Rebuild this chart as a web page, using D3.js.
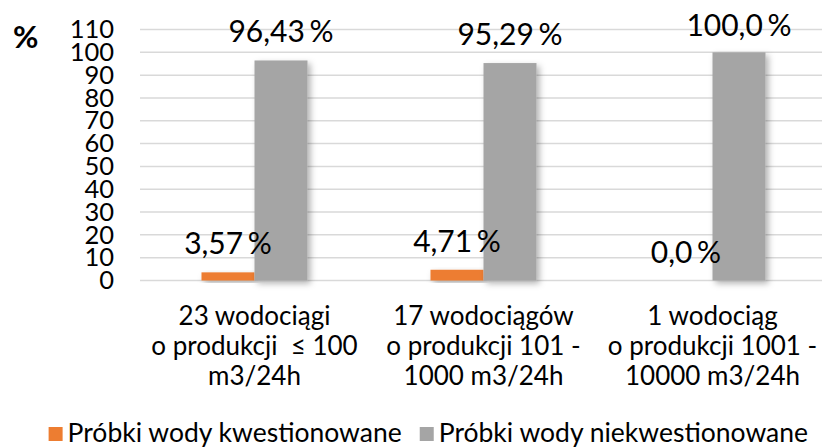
<!doctype html>
<html>
<head>
<meta charset="utf-8">
<script src="https://cdnjs.cloudflare.com/ajax/libs/d3/7.8.5/d3.min.js"></script>
<style>
  body { margin: 0; background: #fff; }
  svg { font-family: Lato, "DejaVu Sans", sans-serif; }
</style>
</head>
<body>
<svg width="822" height="448"></svg>
<script>
// data
var categories = [
  ["23 wodociągi", "o produkcji  \u2264 100", "m3/24h"],
  ["17 wodociągów", "o produkcji 101 -", "1000 m3/24h"],
  ["1 wodociąg", "o produkcji 1001 -", "10000 m3/24h"]
];
var seriesNames = ["Próbki wody kwestionowane", "Próbki wody niekwestionowane"];
var kwestionowane = [3.57, 4.71, 0.0];
var niekwestionowane = [96.43, 95.29, 100.0];
var kwestLabels = ["3,57 %", "4,71 %", "0,0 %"];
var niekwestLabels = ["96,43 %", "95,29 %", "100,0 %"];
var yTicks = [0, 10, 20, 30, 40, 50, 60, 70, 80, 90, 100, 110];
var colors = ["#ED7D31", "#A5A5A5"];

var svg = d3.select("svg");

var x0 = d3.scaleBand()
  .domain(d3.range(categories.length))
  .range([140, 827])
  .paddingInner(0.537)
  .paddingOuter(0.2685);

var x1 = d3.scaleBand()
  .domain([0, 1])
  .range([0, x0.bandwidth()]);

var y = d3.scaleLinear().domain([0, 110]).range([280.5, 29.5]);

// drop shadow like the office chart
var defs = svg.append("defs");
var f = defs.append("filter").attr("id", "shadow")
  .attr("x", "-20%").attr("y", "-20%").attr("width", "160%").attr("height", "140%");
f.append("feDropShadow").attr("dx", 3).attr("dy", 3)
  .attr("stdDeviation", 3).attr("flood-color", "#000").attr("flood-opacity", 0.3);

// gridlines
svg.append("g").selectAll("line")
  .data(yTicks).enter().append("line")
  .attr("x1", 140).attr("x2", 822)
  .attr("y1", d => y(d)).attr("y2", d => y(d))
  .attr("stroke", "#D9D9D9").attr("stroke-width", 1.5);

// y axis labels
var yAxis = d3.axisLeft(y).tickValues(yTicks).tickSize(0).tickPadding(0);
var ga = svg.append("g").attr("transform", "translate(114,0)").call(yAxis);
ga.select(".domain").remove();
ga.selectAll("text")
  .attr("font-family", "Lato").attr("font-size", 25.5).attr("fill", "#000");

svg.append("text").attr("x", 13).attr("y", 48)
  .attr("font-size", 31).attr("font-weight", "bold").attr("fill", "#000")
  .text("%");

var rows = categories.map((c, i) => ({ i: i, vals: [kwestionowane[i], niekwestionowane[i]], labs: [kwestLabels[i], niekwestLabels[i]] }));

var groups = svg.append("g").selectAll("g")
  .data(rows).enter().append("g")
  .attr("transform", d => "translate(" + x0(d.i) + ",0)");

groups.selectAll("rect")
  .data(d => d.vals.map((v, k) => ({ k: k, v: v })))
  .enter().append("rect")
  .attr("x", d => x1(d.k))
  .attr("width", x1.bandwidth())
  .attr("y", d => y(d.v))
  .attr("height", d => y(0) - y(d.v))
  .attr("fill", d => colors[d.k])
  .attr("filter", d => d.v > 0 ? "url(#shadow)" : null);

// data labels, the space before % is narrow in the original
groups.selectAll("text.lab")
  .data(d => d.vals.map((v, k) => ({ k: k, v: v, t: d.labs[k] })))
  .enter().append("text").attr("class", "lab")
  .attr("x", d => x1(d.k) + x1.bandwidth() / 2)
  .attr("y", d => Math.max(y(d.v) - 18, 36))
  .attr("text-anchor", "middle")
  .attr("font-size", 30).attr("fill", "#000")
  .style("word-spacing", "-3px")
  .text(d => d.t);

// category labels
svg.append("g").selectAll("text")
  .data(rows).enter().append("text")
  .attr("text-anchor", "middle")
  .attr("font-size", 26).attr("fill", "#000")
  .attr("transform", d => "translate(" + (x0(d.i) + x0.bandwidth() / 2) + ",0)")
  .selectAll("tspan")
  .data(d => categories[d.i])
  .enter().append("tspan")
  .attr("x", 0)
  .attr("y", (d, j) => 325 + j * 30)
  .style("white-space", "pre")
  .text(d => d);

// legend, right end aligned like the reference
var legend = svg.append("g");
var items = seriesNames.map((n, k) => {
  var r = legend.append("rect").attr("y", 427).attr("width", 14).attr("height", 14).attr("fill", colors[k]);
  var t = legend.append("text").attr("y", 442).attr("font-size", 26.5).attr("fill", "#000").text(n);
  return { r: r, t: t, w: t.node().getComputedTextLength() };
});
var total = items[0].w + items[1].w + 2 * 19 + 18;
var lx = 808 - total;
items.forEach(it => {
  it.r.attr("x", lx);
  it.t.attr("x", lx + 19);
  lx += 19 + it.w + 18;
});
</script>
</body>
</html>
